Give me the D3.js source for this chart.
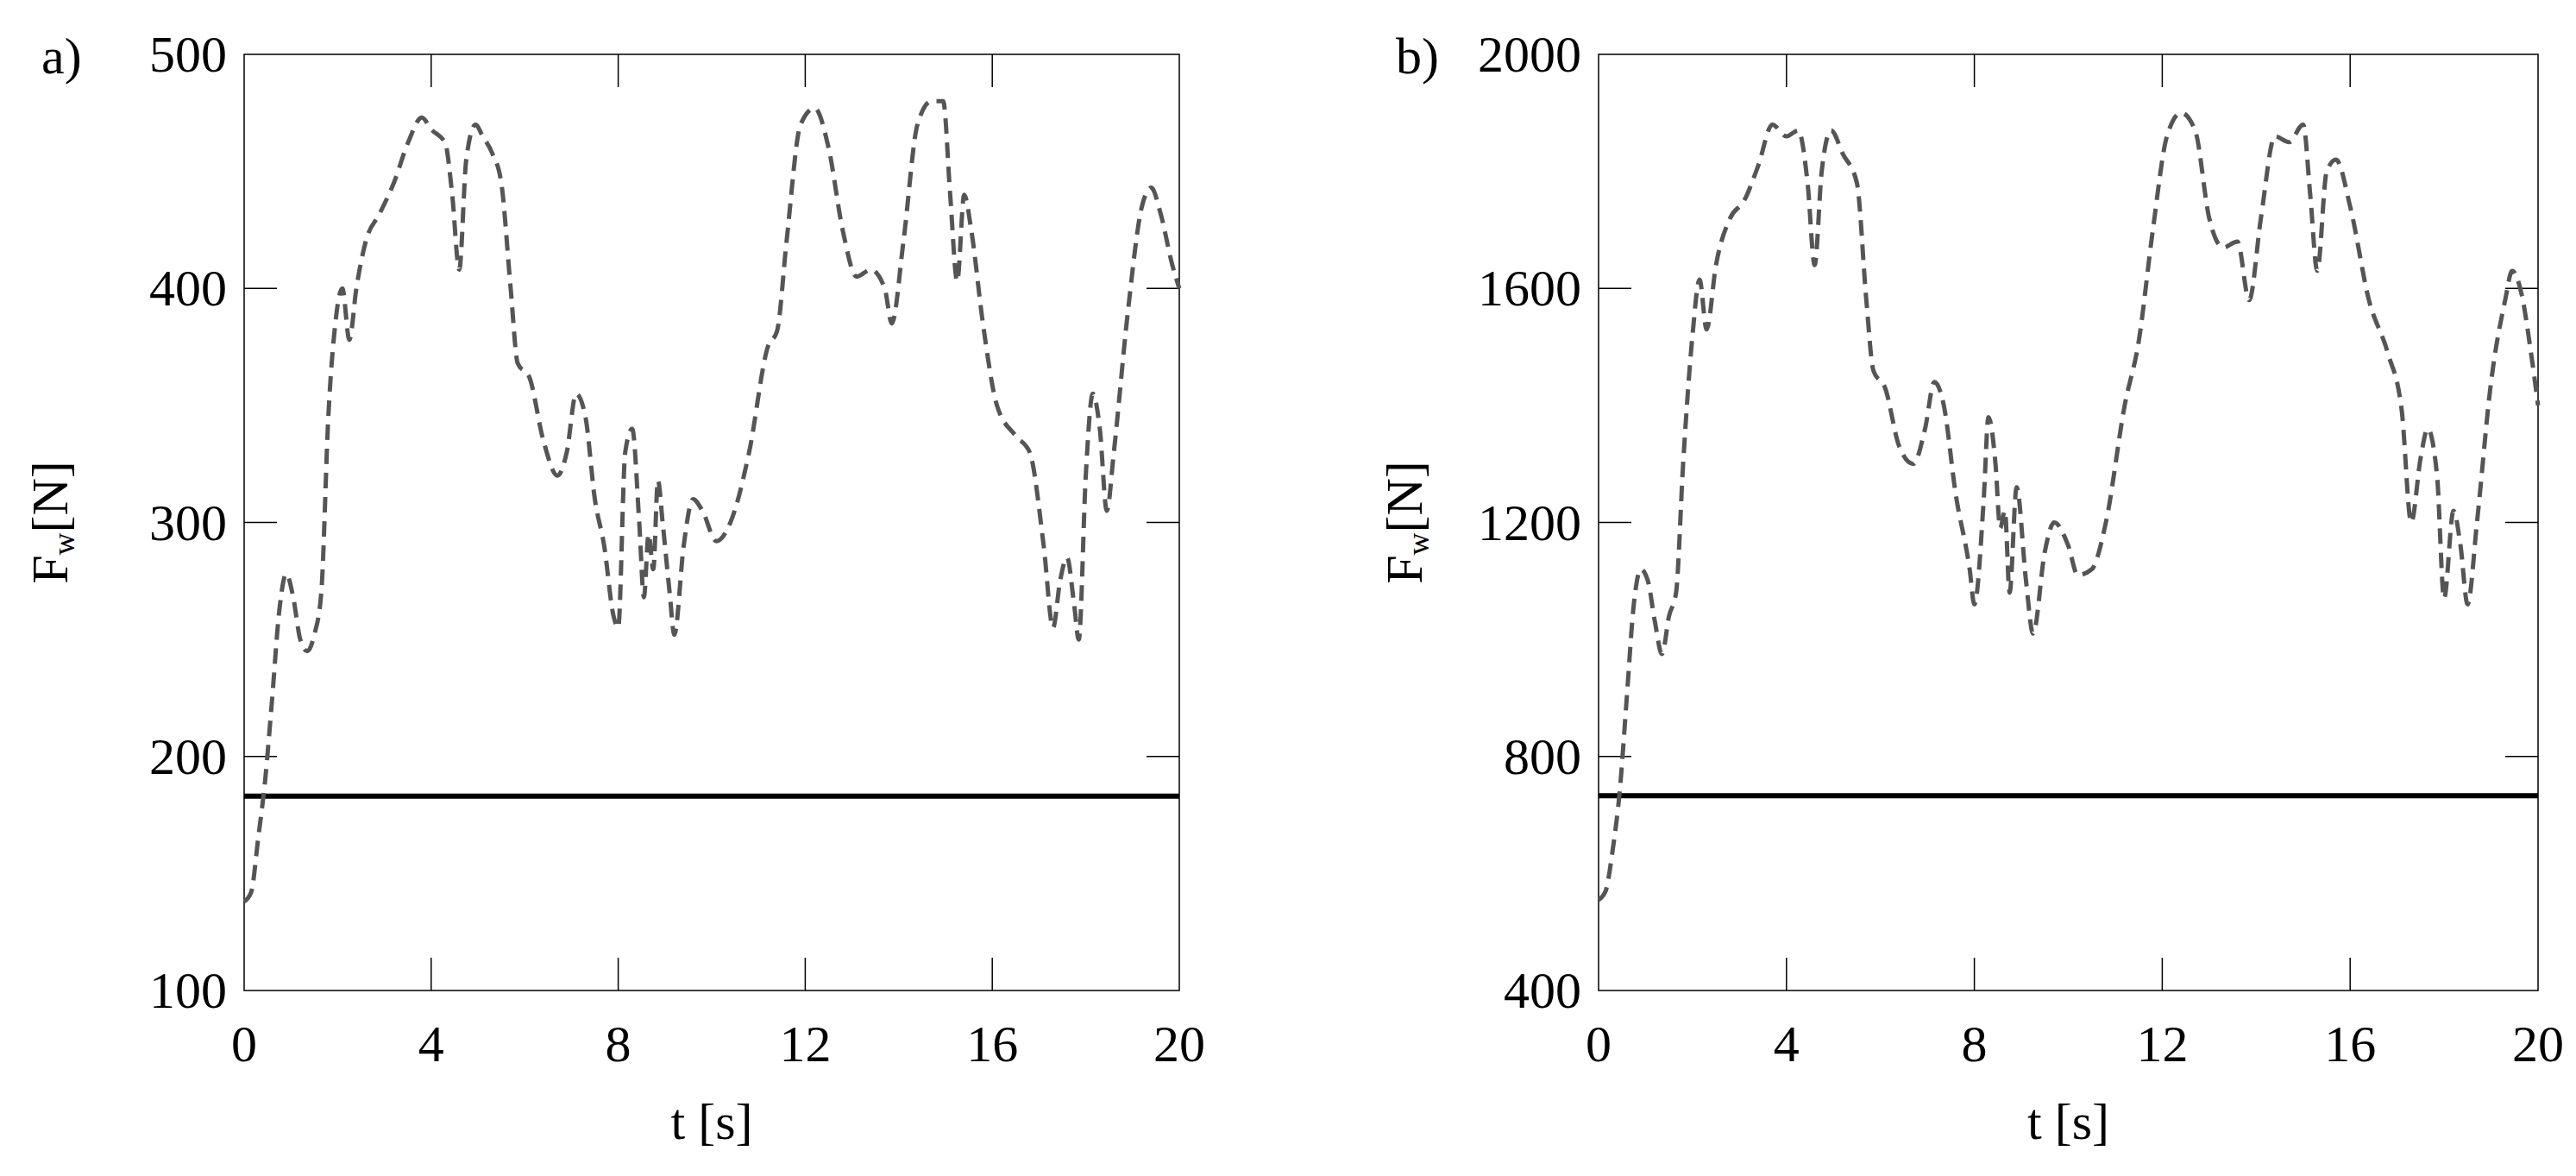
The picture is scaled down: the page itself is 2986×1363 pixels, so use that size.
<!DOCTYPE html>
<html><head><meta charset="utf-8">
<script src="https://cdn.jsdelivr.net/npm/d3@7"></script>
<style>body{margin:0;background:#fff}svg{display:block}text{font-family:"Liberation Serif","DejaVu Serif",serif;fill:#000}</style>
</head><body><svg id="c" width="2986" height="1363"></svg>
<script>
const timeA = [0,0.15,0.3,0.45,0.6,0.75,0.9,1.05,1.2,1.35,1.5,1.65,1.8,1.95,2.1,2.25,2.4,2.6,2.9,3.2,3.5,3.8,4.0,4.3,4.45,4.6,4.75,4.95,5.1,5.3,5.5,5.7,5.85,6.1,6.4,6.7,6.9,7.1,7.3,7.5,7.7,7.9,8.0,8.15,8.3,8.45,8.55,8.65,8.75,8.85,8.95,9.1,9.2,9.4,9.6,9.8,10.1,10.4,10.8,11.2,11.4,11.6,11.9,12.2,12.5,12.8,13.1,13.4,13.7,13.85,14.1,14.4,14.7,14.95,15.1,15.25,15.4,15.55,15.8,16.1,16.5,16.8,17.1,17.3,17.45,17.6,17.75,17.85,18.0,18.15,18.3,18.45,18.6,18.9,19.2,19.4,19.6,19.85,20];
const forceA = [138,142,165,190,225,262,278,268,250,245,252,270,345,385,400,378,400,420,432,445,462,473,468,462,440,408,455,470,465,458,445,400,368,362,335,320,330,355,345,310,290,260,255,330,340,300,268,295,280,318,300,270,252,290,310,305,292,300,330,375,382,420,470,477,460,425,405,408,400,385,420,470,480,480,440,403,440,425,385,350,337,330,290,255,275,285,265,250,320,355,340,305,330,390,435,443,432,410,400];
const timeB = [0,0.15,0.3,0.45,0.6,0.75,0.9,1.05,1.2,1.35,1.5,1.65,1.8,2.0,2.15,2.3,2.5,2.8,3.1,3.4,3.7,4.0,4.25,4.45,4.6,4.75,4.95,5.2,5.5,5.7,5.85,6.1,6.4,6.7,6.95,7.15,7.35,7.6,7.9,8.0,8.2,8.3,8.45,8.55,8.65,8.75,8.9,9.1,9.25,9.5,9.7,10.0,10.2,10.5,10.8,11.2,11.5,11.8,12.1,12.4,12.7,13.0,13.3,13.6,13.85,14.1,14.4,14.7,15.0,15.15,15.3,15.5,15.7,16.0,16.4,16.8,17.1,17.3,17.5,17.65,17.85,18.0,18.2,18.35,18.5,18.7,19.0,19.3,19.45,19.65,19.85,20];
const forceB = [555,570,640,740,900,1060,1120,1100,1030,975,1040,1080,1300,1520,1615,1530,1640,1720,1750,1810,1880,1860,1870,1780,1640,1800,1870,1830,1780,1580,1460,1430,1330,1300,1360,1440,1400,1250,1120,1060,1240,1380,1300,1190,1220,1080,1260,1100,1010,1150,1200,1160,1110,1120,1200,1400,1510,1700,1860,1900,1870,1720,1670,1680,1580,1720,1860,1850,1880,1760,1630,1800,1820,1740,1580,1490,1390,1200,1310,1360,1280,1070,1220,1160,1060,1200,1440,1580,1630,1590,1490,1400];
const limitA = 183, limitB = 733;
const xTicks = [0,4,8,12,16,20];
const yTicksA = [100,200,300,400,500];
const yTicksB = [400,800,1200,1600,2000];
const panels = [
 {label:"a)", t:timeA, f:forceA, lim:limitA, yd:[100,500], yt:yTicksA, x0:283, x1:1367},
 {label:"b)", t:timeB, f:forceB, lim:limitB, yd:[400,2000], yt:yTicksB, x0:1853, x1:2942}
];
const svg = d3.select("#c");
const pTop=63, pBot=1148, tl=38;
panels.forEach(p=>{
  const x=d3.scaleLinear().domain([0,20]).range([p.x0,p.x1]);
  const y=d3.scaleLinear().domain(p.yd).range([pBot,pTop]);
  const g=svg.append("g");
  g.append("rect").attr("x",p.x0).attr("y",pTop).attr("width",p.x1-p.x0).attr("height",pBot-pTop).attr("fill","none").attr("stroke","#000").attr("stroke-width",1.5);
  xTicks.slice(1,-1).forEach(v=>{
    g.append("line").attr("x1",x(v)).attr("x2",x(v)).attr("y1",pTop).attr("y2",pTop+tl).attr("stroke","#000").attr("stroke-width",1.5);
    g.append("line").attr("x1",x(v)).attr("x2",x(v)).attr("y1",pBot).attr("y2",pBot-tl).attr("stroke","#000").attr("stroke-width",1.5);
  });
  p.yt.slice(1,-1).forEach(v=>{
    g.append("line").attr("x1",p.x0).attr("x2",p.x0+tl).attr("y1",y(v)).attr("y2",y(v)).attr("stroke","#000").attr("stroke-width",1.5);
    g.append("line").attr("x1",p.x1).attr("x2",p.x1-tl).attr("y1",y(v)).attr("y2",y(v)).attr("stroke","#000").attr("stroke-width",1.5);
  });
  xTicks.forEach(v=>g.append("text").attr("x",x(v)).attr("y",pBot+82).attr("text-anchor","middle").attr("font-size",60).text(v));
  p.yt.forEach(v=>g.append("text").attr("x",p.x0-20).attr("y",y(v)+20).attr("text-anchor","end").attr("font-size",60).text(v));
  g.append("text").attr("x",(p.x0+p.x1)/2).attr("y",pBot+172).attr("text-anchor","middle").attr("font-size",60).text("t [s]");
  const yl=g.append("text").attr("transform",`translate(${p.x0-205},${(pTop+pBot)/2}) rotate(-90)`).attr("text-anchor","middle").attr("font-size",60);
  yl.append("tspan").text("F");
  yl.append("tspan").attr("font-size",36).attr("dy",8).text("w");
  yl.append("tspan").attr("dy",-8).text("[N]");
  g.append("text").attr("x",p.x0-235).attr("y",pTop+22).attr("font-size",60).text(p.label);
  g.append("line").attr("x1",p.x0).attr("x2",p.x1).attr("y1",y(p.lim)).attr("y2",y(p.lim)).attr("stroke","#000").attr("stroke-width",6);
  const data=p.t.map((t,i)=>[t,p.f[i]]);
  g.append("path").datum(data).attr("d",d3.line().x(d=>x(d[0])).y(d=>y(d[1])).curve(d3.curveMonotoneX))
   .attr("fill","none").attr("stroke","#555").attr("stroke-width",5).attr("stroke-dasharray","18,10");
});
</script></body></html>
